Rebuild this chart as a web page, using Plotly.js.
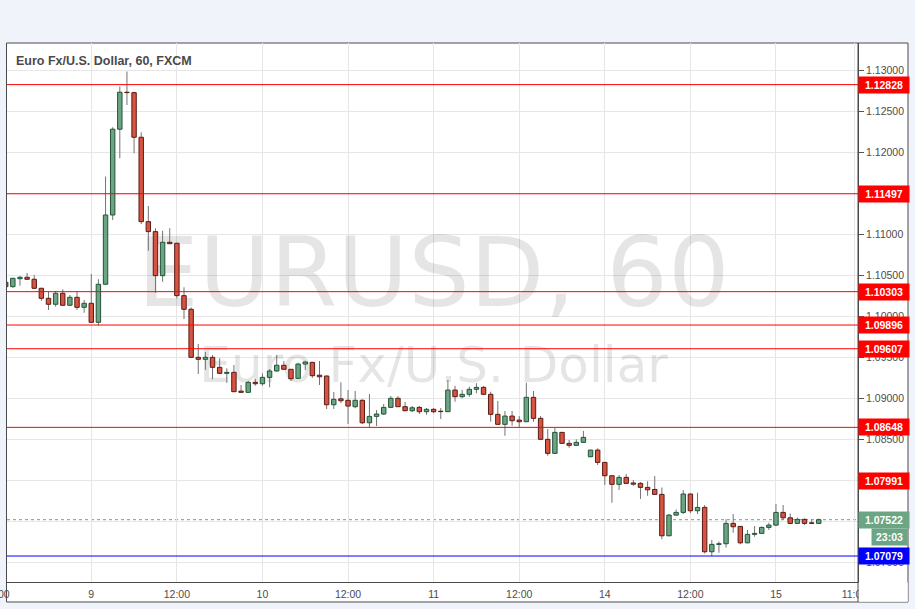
<!DOCTYPE html>
<html><head><meta charset="utf-8">
<script src="https://cdn.plot.ly/plotly-3.0.1.min.js"></script>
<style>html,body{margin:0;padding:0;background:#f0f3fa;}#chart{width:915px;height:609px;}</style>
</head><body><div id="chart"></div>
<script>
// ---- data ----
const sessionStarts = ['2016-11-08 12:00', '2016-11-13 22:00'];
const sessionBars = [82, 33];

const open = [1.10417,1.10364,1.10461,1.10478,1.10454,1.10344,1.10222,1.10149,1.10283,1.10137,1.10234,1.10112,
1.10161,1.09929,1.10393,1.11238,1.12284,1.12735,1.12730,1.12186,1.11157,1.11035,1.10498,1.10905,
1.10893,1.10254,1.10088,1.09502,1.09478,1.09502,1.09380,1.09307,1.09319,1.09090,1.09075,1.09197,
1.09180,1.09258,1.09335,1.09405,1.09356,1.09246,1.09420,1.09441,1.09284,1.09274,1.08924,1.08996,
1.08978,1.08900,1.08978,1.08704,1.08782,1.08811,1.08892,1.09002,1.08900,1.08851,1.08892,1.08839,
1.08868,1.08845,1.08839,1.09103,1.09022,1.09051,1.09112,1.09136,1.09051,1.08807,1.08685,1.08786,
1.08737,1.08717,1.09014,1.08758,1.08502,1.08331,1.08587,1.08453,1.08429,1.08465,
1.08290,1.08371,
1.08221,1.08058,1.07953,1.08038,1.07970,1.07965,1.07916,1.07891,1.07831,1.07326,1.07578,1.07611,
1.07835,1.07631,1.07672,1.07131,1.07221,1.07229,1.07477,1.07440,1.07240,1.07343,1.07355,1.07428,
1.07456,1.07611,1.07545,1.07477,1.07526,1.07484,1.07477];
const high = [1.10425,1.10470,1.10494,1.10531,1.10506,1.10350,1.10303,1.10311,1.10332,1.10262,1.10303,1.10201,
1.10519,1.10454,1.11706,1.12308,1.12804,1.12987,1.12740,1.12247,1.11348,1.11076,1.11047,1.11076,
1.10900,1.10356,1.10112,1.09665,1.09567,1.09530,1.09490,1.09368,1.09408,1.09164,1.09217,1.09238,
1.09307,1.09359,1.09530,1.09457,1.09360,1.09436,1.09461,1.09445,1.09457,1.09280,1.09079,1.09197,
1.09103,1.09091,1.08990,1.09055,1.08859,1.08933,1.09030,1.09030,1.08957,1.08910,1.08908,1.08884,
1.08884,1.08884,1.09225,1.09156,1.09103,1.09144,1.09185,1.09152,1.09083,1.08969,1.08847,1.08847,
1.08786,1.09192,1.09091,1.08786,1.08628,1.08643,1.08590,1.08493,1.08502,1.08603,
1.08375,1.08392,
1.08225,1.08062,1.08066,1.08078,1.08005,1.07982,1.07990,1.08054,1.07916,1.07590,1.07647,1.07883,
1.07840,1.07850,1.07700,1.07273,1.07255,1.07526,1.07590,1.07445,1.07395,1.07444,1.07440,1.07484,
1.07712,1.07700,1.07599,1.07550,1.07538,1.07526,1.07538];
const low = [1.10360,1.10351,1.10376,1.10450,1.10340,1.10193,1.10079,1.10120,1.10130,1.10130,1.10079,1.10046,
1.09925,1.09888,1.10390,1.11177,1.11930,1.12580,1.11991,1.11128,1.10803,1.10290,1.10425,1.10885,
1.10222,1.09970,1.09500,1.09299,1.09347,1.09234,1.09300,1.09192,1.09080,1.09070,1.09070,1.09156,
1.09156,1.09136,1.09330,1.09350,1.09213,1.09240,1.09347,1.09253,1.09164,1.08872,1.08872,1.08941,
1.08689,1.08880,1.08689,1.08648,1.08664,1.08800,1.08885,1.08895,1.08845,1.08835,1.08811,1.08802,
1.08820,1.08750,1.08835,1.08961,1.09002,1.09022,1.09063,1.09045,1.08717,1.08680,1.08546,1.08668,
1.08652,1.08712,1.08717,1.08500,1.08302,1.08325,1.08450,1.08400,1.08425,1.08460,
1.08285,1.08188,
1.07944,1.07728,1.07883,1.07960,1.07935,1.07774,1.07814,1.07828,1.07285,1.07320,1.07570,1.07590,
1.07602,1.07590,1.07110,1.07079,1.07120,1.07184,1.07362,1.07224,1.07235,1.07314,1.07350,1.07395,
1.07444,1.07517,1.07475,1.07475,1.07456,1.07475,1.07475];
const close = [1.10364,1.10466,1.10478,1.10454,1.10344,1.10222,1.10149,1.10283,1.10137,1.10234,1.10112,1.10161,
1.09929,1.10393,1.11238,1.12284,1.12735,1.12730,1.12186,1.11157,1.11035,1.10498,1.10905,1.10888,
1.10254,1.10088,1.09502,1.09478,1.09502,1.09380,1.09307,1.09319,1.09083,1.09075,1.09197,1.09180,
1.09258,1.09335,1.09405,1.09356,1.09241,1.09420,1.09445,1.09278,1.09265,1.08924,1.08990,1.08973,
1.08908,1.08978,1.08704,1.08782,1.08811,1.08892,1.09002,1.08900,1.08851,1.08887,1.08839,1.08868,
1.08839,1.08840,1.09103,1.09022,1.09051,1.09112,1.09136,1.09051,1.08807,1.08685,1.08786,1.08729,
1.08717,1.09014,1.08758,1.08502,1.08331,1.08587,1.08453,1.08429,1.08465,1.08526,
1.08371,1.08221,
1.08058,1.07953,1.08038,1.07965,1.07955,1.07916,1.07887,1.07831,1.07326,1.07578,1.07611,1.07835,
1.07631,1.07672,1.07131,1.07221,1.07229,1.07477,1.07436,1.07240,1.07343,1.07355,1.07428,1.07456,
1.07611,1.07545,1.07477,1.07526,1.07477,1.07477,1.07522];

const resistanceLevels = [1.12828, 1.11497, 1.10303, 1.09896, 1.09607, 1.08648];
const badgeLevels = [1.12828, 1.11497, 1.10303, 1.09896, 1.09607, 1.08648, 1.07991];
const supportLevel = 1.07079;
const lastPrice = 1.07522;
const countdownText = '23:03';
const xTickTimes = ['2016-11-09 00:00','2016-11-09 12:00','2016-11-10 00:00','2016-11-10 12:00','2016-11-11 00:00',
  '2016-11-11 12:00','2016-11-14 00:00','2016-11-14 12:00','2016-11-15 00:00','2016-11-15 11:00'];
const xTickText = ['9','12:00','10','12:00','11','12:00','14','12:00','15','11:00'];
const chartTitle = 'Euro Fx/U.S. Dollar, 60, FXCM';
const watermarkLines = ['EURUSD, 60', 'Euro Fx/U.S. Dollar'];

// ---- build ----
function fmt(d){const p=n=>String(n).padStart(2,'0');return d.getUTCFullYear()+'-'+p(d.getUTCMonth()+1)+'-'+p(d.getUTCDate())+' '+p(d.getUTCHours())+':'+p(d.getUTCMinutes());}
const times=[];
sessionStarts.forEach((s,k)=>{const t0=Date.parse(s.replace(' ','T')+':00Z');for(let i=0;i<sessionBars[k];i++)times.push(fmt(new Date(t0+i*3600000)));});

const HOUR=3600000;
const upX=[],upB=[],upH=[],dnX=[],dnB=[],dnH=[],wB=[],wH=[];
times.forEach((t,i)=>{
  wB.push(low[i]); wH.push(high[i]-low[i]);
  if(close[i]>=open[i]){upX.push(t);upB.push(open[i]);upH.push(close[i]-open[i]);}
  else{dnX.push(t);dnB.push(close[i]);dnH.push(open[i]-close[i]);}
});

const yRange=[1.067622,1.133354];
const xRange=['2016-11-08 12:11','2016-11-15 11:30'];
const rb=[{values:['2016-11-11 22:00'],dvalue:48*HOUR}];
const ySpan=yRange[1]-yRange[0];
const AX='Liberation Sans, Arial, sans-serif';

const traces=[
  {type:'scatter',mode:'text',x:['2016-11-11 00:00','2016-11-11 00:00'],
   y:[yRange[1]-0.443*ySpan, yRange[1]-0.6063*ySpan],text:watermarkLines,
   textposition:'middle center',textfont:{family:'DejaVu Sans',size:[97,50],color:'rgba(0,0,0,0.1)'},
   hoverinfo:'skip',showlegend:false,xaxis:'x',yaxis:'y',cliponaxis:false},
  {type:'bar',x:times,base:wB,y:wH,width:0.14*HOUR,marker:{color:'#737375',line:{width:0}},xaxis:'x',yaxis:'y2',showlegend:false,hoverinfo:'skip'},
  {type:'bar',x:upX,base:upB,y:upH,width:0.62*HOUR,marker:{color:'#6ba583',line:{color:'#225437',width:1}},xaxis:'x',yaxis:'y2',showlegend:false,hoverinfo:'skip'},
  {type:'bar',x:dnX,base:dnB,y:dnH,width:0.62*HOUR,marker:{color:'#d75442',line:{color:'#5b1a13',width:1}},xaxis:'x',yaxis:'y2',showlegend:false,hoverinfo:'skip'}
];

const shapes=[
  {type:'rect',xref:'paper',yref:'paper',x0:-0.0006,x1:1.05875,y0:-0.0371,y1:1,fillcolor:'#ffffff',line:{color:'#4a4a4a',width:1},layer:'below'},
  {type:'line',xref:'paper',yref:'y',x0:0,x1:1,y0:lastPrice,y1:lastPrice,line:{color:'#6ba583',width:1,dash:'dot'},layer:'between'},
  {type:'rect',xref:'paper',yref:'paper',x0:1.0006,x1:1.0585,y0:-0.0365,y1:-0.001,fillcolor:'#ffffff',line:{width:0},layer:'above'},
  {type:'line',xref:'paper',yref:'paper',x0:1,x1:1,y0:-0.0371,y1:1,line:{color:'#4a4a4a',width:1},layer:'above'}
];
resistanceLevels.forEach(v=>shapes.push({type:'line',xref:'paper',yref:'y',x0:0,x1:1,y0:v,y1:v,line:{color:'#ff0000',width:1},layer:'above'}));
shapes.push({type:'line',xref:'paper',yref:'y',x0:0,x1:1,y0:supportLevel,y1:supportLevel,line:{color:'#0000ff',width:1},layer:'above'});

const badgeFont={family:AX,size:10.5,color:'#ffffff',weight:'bold'};
const annotations=[
  {xref:'paper',yref:'paper',x:0.0082,y:0.9666,xanchor:'left',yanchor:'middle',showarrow:false,text:chartTitle,
   font:{family:AX,size:12.5,color:'#4a4a4a',weight:'bold'}},
  {xref:'paper',yref:'paper',x:0.0059,y:-0.0223,xanchor:'right',yanchor:'middle',showarrow:false,text:'00',
   font:{family:AX,size:10.5,color:'#4c4c4c'}}
];
badgeLevels.forEach(v=>annotations.push({xref:'paper',yref:'y',x:1,y:v,xanchor:'left',yanchor:'middle',showarrow:false,
  text:v.toFixed(5),font:badgeFont,bgcolor:'#ff0000',width:46,height:12,borderpad:2,align:'center'}));
annotations.push({xref:'paper',yref:'y',x:1,y:lastPrice,xanchor:'left',yanchor:'middle',showarrow:false,
  text:lastPrice.toFixed(5),font:badgeFont,bgcolor:'#6ba583',width:46,height:12,borderpad:2,align:'center'});
annotations.push({xref:'paper',yref:'y',x:1.05875,y:lastPrice,yshift:-17,xanchor:'right',yanchor:'middle',showarrow:false,
  text:countdownText,font:badgeFont,bgcolor:'#6ba583',width:31,height:12,borderpad:2,align:'center'});
annotations.push({xref:'paper',yref:'y',x:1,y:supportLevel,xanchor:'left',yanchor:'middle',showarrow:false,
  text:supportLevel.toFixed(5),font:badgeFont,bgcolor:'#0000ff',width:46,height:12,borderpad:2,align:'center'});

const layout={
  width:915,height:609,margin:{l:7,r:57,t:43,b:27,pad:0},
  paper_bgcolor:'#f0f3fa',plot_bgcolor:'rgba(0,0,0,0)',
  showlegend:false,hovermode:false,barmode:'overlay',
  xaxis:{type:'date',range:xRange,rangebreaks:rb,tickmode:'array',tickvals:xTickTimes,ticktext:xTickText,
    showgrid:true,gridcolor:'#e6e6e6',gridwidth:1,showline:true,linecolor:'#4a4a4a',linewidth:1,ticks:'',
    ticklabelstandoff:2,tickfont:{family:AX,size:10.5,color:'#4c4c4c'},zeroline:false,fixedrange:true},
  yaxis:{range:yRange,side:'right',tick0:1.07,dtick:0.005,tickformat:'.5f',showgrid:true,gridcolor:'#e6e6e6',
    showline:true,linecolor:'#4a4a4a',linewidth:1,ticks:'outside',ticklen:5,tickcolor:'#555555',
    tickfont:{family:AX,size:10.5,color:'#4c4c4c'},zeroline:false,fixedrange:true},
  yaxis2:{range:yRange,overlaying:'y',anchor:'x',visible:false,fixedrange:true},
  shapes:shapes,annotations:annotations
};
Plotly.newPlot('chart',traces,layout,{staticPlot:true,displayModeBar:false});
</script></body></html>
